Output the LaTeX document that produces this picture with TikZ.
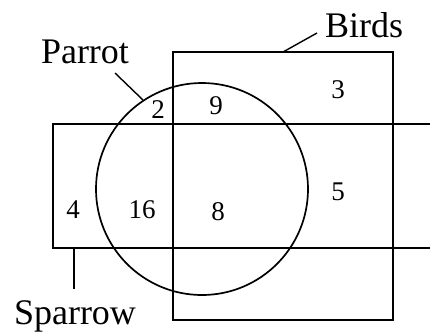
\documentclass[tikz,border=0pt]{standalone}
\usepackage{fontspec}
\setmainfont{Liberation Serif}
\begin{document}
\begin{tikzpicture}[x=1pt,y=-1pt, line width=1.7pt,
  lbl/.style={font=\fontsize{36}{42}\selectfont, inner sep=0pt},
  num/.style={font=\fontsize{27}{32}\selectfont, inner sep=0pt}]
\useasboundingbox (0,0) rectangle (430,333);
\clip (0,0) rectangle (430,333);
% Birds rectangle
\draw (173,52) rectangle (393,320);
% Sparrow rectangle (cut off at right)
\draw (440,124) -- (53,124) -- (53,248) -- (440,248);
% Parrot circle
\draw (202,189) circle[radius=106pt];
% labels
\node[lbl] (parrot) at (85,52) {Parrot};
\node[lbl] (birds) at (364,25) {Birds};
\node[lbl] (sparrow) at (75,316) {Sparrow};
\coordinate (pa1) at (115,73);
\coordinate (pa2) at (143,100);
\coordinate (bi1) at (317,33);
\coordinate (bi2) at (283,52);
\coordinate (sp1) at (74,248);
\coordinate (sp2) at (74,289);
\draw[line width=1.4pt] (pa1) -- (pa2);
\draw[line width=1.4pt] (bi1) -- (bi2);
\draw[line width=1.4pt] (sp1) -- (sp2);
% numbers
\node[num] (n2) at (158,110) {2};
\node[num] (n9) at (216,106) {9};
\node[num] (n3) at (338,90) {3};
\node[num] (n4) at (73,210) {4};
\node[num] (n16) at (142,210) {16};
\node[num] (n8) at (218,212) {8};
\node[num] (n5) at (338,192) {5};
\end{tikzpicture}
\end{document}
